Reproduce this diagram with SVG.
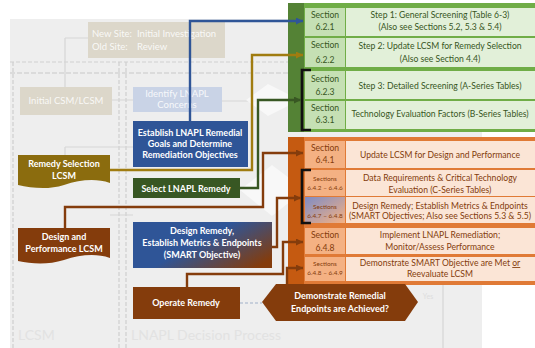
<svg xmlns="http://www.w3.org/2000/svg" width="535" height="348" viewBox="0 0 535 348">
<style>
text{font-family:Lato,"Liberation Sans",sans-serif}
.w{fill:#fff;font-weight:bold;font-size:9px;text-anchor:middle}
.ghost{fill:#fff;font-size:9.5px;text-anchor:middle;opacity:.85}
.ghostl{fill:#fff;font-size:9.5px;text-anchor:start;opacity:.85}
.gt{fill:#375623;font-size:8.6px;text-anchor:middle}
.gs{fill:#375623;font-size:8.6px;text-anchor:middle}
.ot{fill:#843c0c;font-size:8.6px;text-anchor:middle}
.os{fill:#843c0c;font-size:6.4px;text-anchor:middle}
.gl{fill:none;stroke:#d6d6d6;stroke-width:1.2}
.gd{fill:none;stroke:#cfcfcf;stroke-width:1.2;stroke-dasharray:4 2}
.c{fill:none;stroke-width:2.4}
.br{fill:none;stroke:#111;stroke-width:2.6}
</style>
<defs>
<marker id="aB" markerWidth="7" markerHeight="7" refX="7" refY="3.5" orient="auto" markerUnits="userSpaceOnUse"><path d="M0,0 L7,3.5 L0,7 Z" fill="#2f5597"/></marker>
<marker id="aY" markerWidth="7" markerHeight="7" refX="7" refY="3.5" orient="auto" markerUnits="userSpaceOnUse"><path d="M0,0 L7,3.5 L0,7 Z" fill="#a07c10"/></marker>
<marker id="aG" markerWidth="7" markerHeight="7" refX="7" refY="3.5" orient="auto" markerUnits="userSpaceOnUse"><path d="M0,0 L7,3.5 L0,7 Z" fill="#385723"/></marker>
<marker id="aO" markerWidth="7" markerHeight="7" refX="7" refY="3.5" orient="auto" markerUnits="userSpaceOnUse"><path d="M0,0 L7,3.5 L0,7 Z" fill="#843c0c"/></marker>
<linearGradient id="dr" x1="0" y1="0.2" x2="1" y2="0.8"><stop offset="0.45" stop-color="#2f5597"/><stop offset="1" stop-color="#843c0c"/></linearGradient>
<linearGradient id="sc" x1="0" y1="0" x2="1" y2="1"><stop offset="0" stop-color="#7f8cc4"/><stop offset="1" stop-color="#f4b183"/></linearGradient>
</defs>

<!-- ghost background -->
<g id="background">
<rect x="10" y="19" width="472" height="329" fill="#eeeeee"/>
<path class="gd" d="M10,62 H290"/>
<path d="M10,73 H290" fill="none" stroke="#c8c8c8" stroke-width="1.2" stroke-dasharray="5 2"/>
<path class="gd" d="M13,62 V348 M119,62 V348 M126,62 V348"/>
<path class="gl" d="M65,38 H88 M65,38 V87 M112,100 H133 M222,101 H262 M65,147 H133 M65,147 V155 M110,215 H133 M402,278 H443 V303 M443,303 V348"/>
<path d="M240,303 H262" fill="none" stroke="#9fb0c8" stroke-width="1.2" stroke-dasharray="3 2"/>
<polygon points="268,84 300,100 268,116 246,100" fill="#fafafa" opacity="0.8"/>
<polygon points="272,165 305,190 272,216 240,190" fill="#fafafa" opacity="0.8"/>
<rect x="88" y="22" width="137" height="36" fill="#dcd7ca"/>
<text class="ghostl" y="37"><tspan x="92">New Site:</tspan><tspan x="137">Initial Investigation</tspan></text>
<text class="ghostl" y="50"><tspan x="92">Old Site:</tspan><tspan x="137">Review</tspan></text>
<rect x="20" y="87" width="92" height="28" fill="#dcd7ca"/>
<text class="ghost" x="66" y="104">Initial CSM/LCSM</text>
<rect x="133" y="87" width="89" height="25" fill="#c9d3e6"/>
<text class="ghost" x="177" y="97">Identify LNAPL</text>
<text class="ghost" x="177" y="108">Concerns</text>
<text x="428" y="299" fill="#dddddd" font-size="7px" text-anchor="middle">Yes</text>
<text x="18" y="340" fill="#e2e2e2" font-size="14px">LCSM</text>
<text x="131" y="340" fill="#e2e2e2" font-size="14px">LNAPL Decision Process</text>
</g>

<!-- green panel -->
<g id="green-panel">
<rect x="288" y="3" width="247" height="129" fill="#70ad47"/>
<rect x="288" y="3" width="16" height="129" fill="#548235"/>
<rect x="305" y="8" width="40" height="28" fill="#c5e0b4"/>
<rect x="346" y="8" width="189" height="28" fill="#e2f0d9"/>
<rect x="305" y="38" width="40" height="29" fill="#c5e0b4"/>
<rect x="346" y="38" width="189" height="29" fill="#e2f0d9"/>
<rect x="305" y="71" width="40" height="28" fill="#c5e0b4"/>
<rect x="346" y="71" width="189" height="28" fill="#e2f0d9"/>
<rect x="305" y="101" width="40" height="28" fill="#c5e0b4"/>
<rect x="346" y="101" width="189" height="28" fill="#e2f0d9"/>
<text class="gs" x="325" y="18">Section</text><text class="gs" x="325" y="30">6.2.1</text>
<text class="gt" x="440" y="18">Step 1: General Screening (Table 6-3)</text>
<text class="gt" x="440" y="30">(Also see Sections 5.2, 5.3 &amp; 5.4)</text>
<text class="gs" x="325" y="48">Section</text><text class="gs" x="325" y="63">6.2.2</text>
<text class="gt" x="440" y="49">Step 2: Update LCSM for Remedy Selection</text>
<text class="gt" x="440" y="62">(Also see Section 4.4)</text>
<text class="gs" x="325" y="82">Section</text><text class="gs" x="325" y="95">6.2.3</text>
<text class="gt" x="440" y="89">Step 3: Detailed Screening (A-Series Tables)</text>
<text class="gs" x="325" y="111">Section</text><text class="gs" x="325" y="123">6.3.1</text>
<text class="gt" x="440" y="117" font-size="8px">Technology Evaluation Factors (B-Series Tables)</text>
<path class="br" d="M311,70 H302 V130 H311"/>
</g>

<!-- orange panel -->
<g id="orange-panel">
<rect x="288" y="137" width="247" height="148" fill="#e07a36"/>
<rect x="288" y="137" width="16" height="148" fill="#c55a11"/>
<rect x="305" y="141" width="40" height="27" fill="#f4b183"/>
<rect x="346" y="141" width="189" height="27" fill="#fbe5d6"/>
<rect x="305" y="170" width="40" height="26" fill="#f4b183"/>
<rect x="346" y="170" width="189" height="26" fill="#fbe5d6"/>
<rect x="305" y="197" width="40" height="26" fill="url(#sc)"/>
<rect x="346" y="197" width="189" height="26" fill="#fbe5d6"/>
<rect x="305" y="228" width="40" height="26" fill="#f4b183"/>
<rect x="346" y="228" width="189" height="26" fill="#fbe5d6"/>
<rect x="305" y="257" width="40" height="24" fill="#f4b183"/>
<rect x="346" y="257" width="189" height="24" fill="#fbe5d6"/>
<text class="ot" x="325" y="151">Section</text><text class="ot" x="325" y="163">6.4.1</text>
<text class="ot" x="440" y="158">Update LCSM for Design and Performance</text>
<text class="os" x="325" y="181">Sections</text><text class="os" x="325" y="190">6.4.2 – 6.4.6</text>
<text class="ot" x="440" y="181">Data Requirements &amp; Critical Technology</text>
<text class="ot" x="440" y="193">Evaluation (C-Series Tables)</text>
<text class="os" x="325" y="209">Sections</text><text class="os" x="325" y="218">6.4.7 – 6.4.8</text>
<text class="ot" x="440" y="209">Design Remedy; Establish Metrics &amp; Endpoints</text>
<text class="ot" x="440" y="219" font-size="6.8px">(SMART Objectives; Also see Sections 5.3 &amp; 5.5)</text>
<text class="ot" x="325" y="238">Section</text><text class="ot" x="325" y="251">6.4.8</text>
<text class="ot" x="440" y="238">Implement LNAPL Remediation;</text>
<text class="ot" x="440" y="250">Monitor/Assess Performance</text>
<text class="os" x="325" y="266">Sections</text><text class="os" x="325" y="275">6.4.8 – 6.4.9</text>
<text class="ot" x="440" y="266">Demonstrate SMART Objective are Met <tspan text-decoration="underline">or</tspan></text>
<text class="ot" x="440" y="277">Reevaluate LCSM</text>
<path class="br" d="M311,170 H302 V223 H311"/>
</g>

<!-- connectors -->
<g id="connectors">
<path class="c" stroke="#2f5597" d="M190,121 V21 H303" marker-end="url(#aB)"/>
<path class="c" stroke="#a07c10" d="M110,170 H252 V55 H303" marker-end="url(#aY)"/>
<path class="c" stroke="#385723" d="M240,188 H258 V100 H301" marker-end="url(#aG)"/>
<path class="c" stroke="#843c0c" d="M65,228 V207 H263 V153 H303" marker-end="url(#aO)"/>
<path class="c" stroke="#843c0c" d="M272,247 H277 V198 H301" marker-end="url(#aO)"/>
<path class="c" stroke="#843c0c" d="M187,287 V274 H283 V242 H303" marker-end="url(#aO)"/>
<path class="c" stroke="#843c0c" d="M287,284 V268 H303" marker-end="url(#aO)"/>
</g>

<!-- nodes -->
<g id="establish">
<rect x="133" y="121" width="115" height="46" fill="#2f5597"/>
<text class="w" x="190" y="136" font-size="8.5px">Establish LNAPL Remedial</text>
<text class="w" x="190" y="147" font-size="8.5px">Goals and Determine</text>
<text class="w" x="190" y="158" font-size="8.5px">Remediation Objectives</text>
</g>
<g id="remedy-selection-lcsm">
<path d="M18,155 H110 V183 C95,178 80,180 64,185 C48,190 32,188 18,185 Z" fill="#8b6c0e"/>
<text class="w" x="64" y="167" font-size="9.5px">Remedy Selection</text>
<text class="w" x="64" y="179" font-size="9.5px">LCSM</text>
</g>
<g id="select-remedy">
<rect x="133" y="178" width="107" height="20" fill="#385723"/>
<text class="w" x="186" y="191.5">Select LNAPL Remedy</text>
</g>
<g id="design-performance-lcsm">
<path d="M18,228 H110 V258 C95,253 80,255 64,260 C48,265 32,264 18,261 Z" fill="#843c0c"/>
<text class="w" x="64" y="240" font-size="9.5px">Design and</text>
<text class="w" x="64" y="252" font-size="9.5px">Performance LCSM</text>
</g>
<g id="design-remedy">
<rect x="133" y="222" width="139" height="46" fill="url(#dr)"/>
<text class="w" x="202" y="234" font-size="8.5px">Design Remedy,</text>
<text class="w" x="202" y="246" font-size="8.5px">Establish Metrics &amp; Endpoints</text>
<text class="w" x="202" y="258" font-size="8.5px">(SMART Objective)</text>
</g>
<g id="operate-remedy">
<rect x="133" y="287" width="107" height="32" fill="#843c0c"/>
<text class="w" x="186" y="306">Operate Remedy</text>
</g>
<g id="demonstrate">
<polygon points="262,302 276,284 405,284 418,302 405,321 276,321" fill="#843c0c"/>
<text class="w" x="340" y="299">Demonstrate Remedial</text>
<text class="w" x="340" y="312">Endpoints are Achieved?</text>
</g>
</svg>
